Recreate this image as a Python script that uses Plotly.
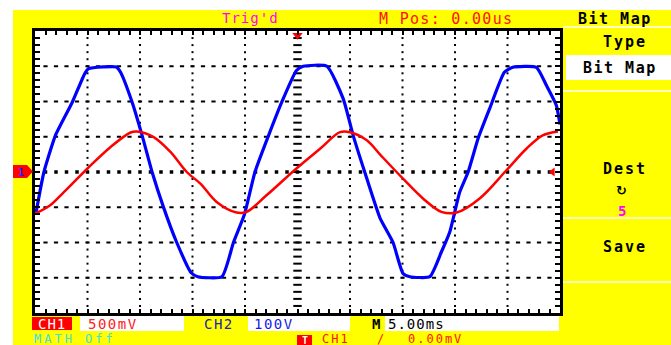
import numpy as np
import plotly.graph_objects as go

# ---------------- data (time in ms, amplitude in screen divisions) ----------------
blue_t_div = [0.02, 0.17, 0.39, 0.71, 0.95, 1.02, 1.30, 1.55, 1.63, 1.85, 2.04, 2.23, 2.45, 2.70,
              2.97, 3.10, 3.56, 3.78, 3.99, 4.19, 4.45, 4.70, 4.98, 5.11, 5.56, 5.87, 6.06, 6.28,
              6.57, 6.82, 7.01, 7.14, 7.52, 7.74, 7.90, 8.09, 8.25, 8.44, 8.66, 8.94, 9.10, 9.55,
              9.74, 9.93, 10.0]
blue_val = [-1.15, 0.0, 1.04, 1.98, 2.80, 2.93, 2.98, 2.98, 2.83, 1.98, 1.04, 0.0, -1.01, -2.0,
            -2.85, -2.97, -2.97, -2.0, -1.2, 0.0, 1.04, 1.98, 2.88, 3.0, 3.0, 2.08, 1.04, 0.0,
            -1.3, -2.0, -2.88, -2.97, -2.97, -2.27, -1.70, -0.57, 0.0, 0.95, 1.80, 2.83, 2.97, 2.97,
            2.46, 1.89, 1.35]
red_t_div = [0.0, 0.29, 0.55, 1.0, 1.44, 1.82, 1.94, 2.26, 2.58, 2.89, 3.15, 3.46, 3.84, 4.03,
             4.41, 4.98, 5.43, 5.81, 6.0, 6.32, 6.57, 7.01, 7.39, 7.74, 8.03, 8.47, 8.98, 9.36,
             9.67, 9.96]
red_val = [-1.18, -0.94, -0.57, 0.10, 0.71, 1.12, 1.15, 0.99, 0.57, 0.0, -0.33, -0.85, -1.15, -1.13,
           -0.66, 0.10, 0.66, 1.13, 1.13, 0.90, 0.50, -0.19, -0.75, -1.13, -1.15, -0.75, 0.05, 0.66,
           1.04, 1.15]

MS_PER_DIV = 5.0
blue_t = [(d - 5) * MS_PER_DIV for d in blue_t_div]
red_t = [(d - 5) * MS_PER_DIV for d in red_t_div]

YELLOW = "#FFFF00"
L, R, T, B = 35, 111, 31, 32
W, H = 671, 345
PW, PH = W - L - R, H - T - B


def xp(px):
    return (px - L) / PW


def yp(py):
    return (H - B - py) / PH


fig = go.Figure()

# ---------------- graticule ----------------
gx, gy = [], []
for k in range(-20, 21, 5):
    if k == 0:
        continue
    for v in np.arange(-3.8, 3.81, 0.2):
        gx.append(k); gy.append(v)
hx, hy = [], []
for v in [-3, -2, -1, 1, 2, 3]:
    for k in np.arange(-24, 24.01, 1.0):
        hx.append(k); hy.append(v)
fig.add_trace(go.Scatter(x=gx, y=gy, mode="markers", hoverinfo="skip",
                         marker=dict(symbol="square", size=2, color="black", line_width=0)))
fig.add_trace(go.Scatter(x=hx, y=hy, mode="markers", hoverinfo="skip",
                         marker=dict(symbol="line-ew", size=3, line=dict(color="black", width=2))))
# centre cross
cx = list(np.arange(-24, 24.01, 1.0))
fig.add_trace(go.Scatter(x=cx, y=[0] * len(cx), mode="markers", hoverinfo="skip",
                         marker=dict(symbol="square", size=3.5, color="black", line_width=0)))
cy = list(np.arange(-3.8, 3.81, 0.2))
fig.add_trace(go.Scatter(x=[0] * len(cy), y=cy, mode="markers", hoverinfo="skip",
                         marker=dict(symbol="line-ew", size=6, line=dict(color="black", width=2))))

# ---------------- traces ----------------
fig.add_trace(go.Scatter(x=blue_t, y=blue_val, mode="lines", name="CH2",
                         line=dict(color="#0000FF", width=3.2, shape="spline", smoothing=0.5)))
fig.add_trace(go.Scatter(x=red_t, y=red_val, mode="lines", name="CH1",
                         line=dict(color="#FF0000", width=2.5, shape="spline", smoothing=1.0)))

# trigger markers
fig.add_trace(go.Scatter(x=[0], y=[3.88], mode="markers", hoverinfo="skip",
                         marker=dict(symbol="triangle-down", size=9, color="#FF0000")))
fig.add_trace(go.Scatter(x=[24.3], y=[0], mode="markers", hoverinfo="skip",
                         marker=dict(symbol="triangle-left", size=8, color="#FF0000")))

shapes = []
# white margins top and left
shapes.append(dict(type="rect", xref="paper", yref="paper", x0=xp(0), x1=xp(W), y0=yp(10), y1=yp(0),
                   fillcolor="white", line_width=0, layer="below"))
shapes.append(dict(type="rect", xref="paper", yref="paper", x0=xp(0), x1=xp(13), y0=yp(H), y1=yp(0),
                   fillcolor="white", line_width=0, layer="below"))
# right menu separators
for yy in [27, 91, 218, 282]:
    shapes.append(dict(type="line", xref="paper", yref="paper", x0=xp(563), x1=xp(W), y0=yp(yy), y1=yp(yy),
                       line=dict(color="white", width=1.5)))
# white boxes
for (x0, x1, y0, y1) in [(566, 671, 55, 80), (80, 184, 316, 331), (248, 350, 316, 331), (385, 559, 316, 331)]:
    shapes.append(dict(type="rect", xref="paper", yref="paper", x0=xp(x0), x1=xp(x1), y0=yp(y1), y1=yp(y0),
                       fillcolor="white", line_width=0))
# red boxes
for (x0, x1, y0, y1) in [(32, 72, 317, 330), (297, 312, 335, 345)]:
    shapes.append(dict(type="rect", xref="paper", yref="paper", x0=xp(x0), x1=xp(x1), y0=yp(y1), y1=yp(y0),
                       fillcolor="#FF0000", line_width=0))
# channel-1 ground marker
shapes.append(dict(type="path", xref="paper", yref="paper",
                   path=f"M {xp(13)},{yp(165)} L {xp(27)},{yp(165)} L {xp(33)},{yp(171.5)} L {xp(27)},{yp(178)} L {xp(13)},{yp(178)} Z",
                   fillcolor="#FF0000", line_width=0))

MONO = "DejaVu Sans Mono"
ann = []


def txt(s, x, y, color, size, xanchor="center", yanchor="middle", bold=False, ls=None, family=MONO):
    t = f"<b>{s}</b>" if bold else s
    if ls is not None:
        t = f'<span style="letter-spacing:{ls}px">{t}</span>'
    ann.append(dict(text=t, xref="paper", yref="paper", x=xp(x), y=yp(y), showarrow=False,
                    xanchor=xanchor, yanchor=yanchor, borderpad=0,
                    font=dict(family=family, size=size, color=color)))


txt("Trig'd", 250, 18, "#FF00FF", 14, ls=1)
txt("M Pos: 0.00us", 446, 19, "#FF1010", 15, ls=1.3)
txt("Bit Map", 615, 19, "black", 15, bold=True, ls=1.5)
txt("Type", 625, 42, "black", 15, bold=True, ls=2)
txt("Bit Map", 620, 68, "black", 15, bold=True, ls=1.5)
txt("Dest", 625, 169, "black", 15, bold=True, ls=2)
txt("↻", 621, 190, "black", 13, bold=True, family="DejaVu Sans")
txt("5", 622, 211, "#FF00FF", 14, bold=True)
txt("Save", 625, 247, "black", 15, bold=True, ls=2)
txt("1", 21, 172, "#2020FF", 10, bold=True)

txt("CH1", 52, 324, "white", 14, ls=1)
txt("500mV", 87, 324, "#FF2020", 14, xanchor="left", ls=1.5)
txt("CH2", 219, 324, "#2424B0", 14, ls=1.5)
txt("100V", 253, 324, "#1818F0", 14, xanchor="left", ls=1.5)
txt("M", 376, 324, "black", 14, bold=True)
txt("5.00ms", 387, 324, "black", 14, xanchor="left", ls=1)
txt("MATH Off", 33, 339, "#40E0E0", 12, xanchor="left", ls=3)
txt("T", 304.5, 340, "white", 10, bold=True)
txt("CH1", 321, 339, "#FF1010", 12, xanchor="left", ls=2)
txt("/", 380, 339, "#FF1010", 12)
txt("0.00mV", 407, 339, "#FF1010", 12, xanchor="left", ls=2)

fig.update_layout(
    width=W, height=H,
    margin=dict(l=L, r=R, t=T, b=B, pad=0),
    paper_bgcolor=YELLOW, plot_bgcolor="white",
    showlegend=False,
    shapes=shapes, annotations=ann,
    xaxis=dict(range=[-25, 25], showgrid=False, zeroline=False, showticklabels=False,
               ticks="inside", tick0=0, dtick=1, ticklen=4, tickwidth=1.5, tickcolor="black",
               showline=True, linecolor="black", linewidth=3, mirror="ticks", fixedrange=True),
    yaxis=dict(range=[-4, 4], showgrid=False, zeroline=False, showticklabels=False,
               ticks="inside", tick0=0, dtick=0.2, ticklen=5, tickwidth=1.5, tickcolor="black",
               showline=True, linecolor="black", linewidth=3, mirror="ticks", fixedrange=True),
)

fig.write_html("out.html", config={"displayModeBar": False},
               post_script="document.body.style.margin='0';document.body.style.overflow='hidden';")
